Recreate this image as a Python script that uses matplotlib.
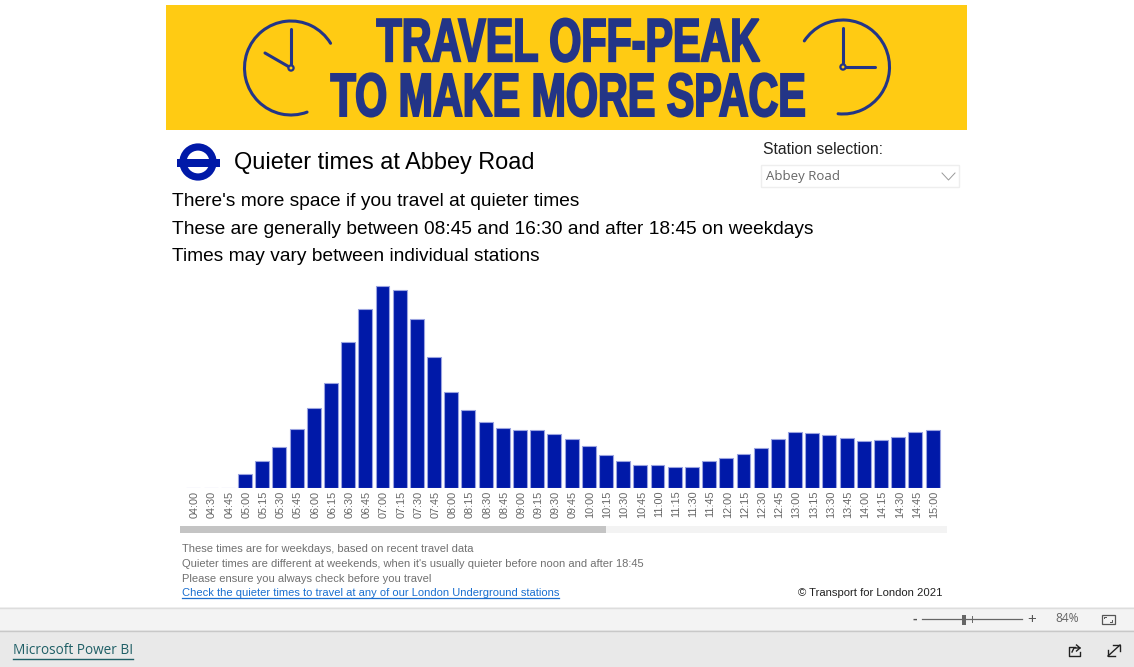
import matplotlib
matplotlib.use("Agg")
import matplotlib.pyplot as plt
from matplotlib.patches import Rectangle, Arc, Circle
from matplotlib.patheffects import AbstractPathEffect
from matplotlib.transforms import Affine2D, ScaledTranslation

W, H = 1134, 667

# ---- data ----
time_slots = ["04:00", "04:30", "04:45", "05:00", "05:15", "05:30", "05:45", "06:00", "06:15", "06:30",
              "06:45", "07:00", "07:15", "07:30", "07:45", "08:00", "08:15", "08:30", "08:45", "09:00",
              "09:15", "09:30", "09:45", "10:00", "10:15", "10:30", "10:45", "11:00", "11:15", "11:30",
              "11:45", "12:00", "12:15", "12:30", "12:45", "13:00", "13:15", "13:30", "13:45", "14:00",
              "14:15", "14:30", "14:45", "15:00"]
busyness = [0, 0, 0, 14, 27, 41, 59, 80, 105, 146,
            179, 202, 198, 169, 131, 96, 78, 66, 60, 58,
            58, 54, 49, 42, 33, 27, 23, 23, 21, 21,
            27, 30, 34, 40, 49, 56, 55, 53, 50, 47,
            48, 51, 56, 58]
banner_text = "TRAVEL OFF-PEAK\nTO MAKE MORE SPACE"
title = "Quieter times at Abbey Road"
intro_lines = ["There's more space if you travel at quieter times",
               "These are generally between 08:45 and 16:30 and after 18:45 on weekdays",
               "Times may vary between individual stations"]
note_lines = ["These times are for weekdays, based on recent travel data",
              "Quieter times are different at weekends, when it's usually quieter before noon and after 18:45",
              "Please ensure you always check before you travel"]
link_text = "Check the quieter times to travel at any of our London Underground stations"
copyright_text = "© Transport for London 2021"

plt.rcParams["font.family"] = ["Liberation Sans", "DejaVu Sans"]
BAR = "#0019A8"
NAVY = "#233587"
YEL = "#FFCB13"

fig = plt.figure(figsize=(W / 100, H / 100), dpi=100, facecolor="white")
bg = fig.add_axes([0, 0, 1, 1])
bg.set_xlim(0, W)
bg.set_ylim(H, 0)
bg.axis("off")


class Squeeze(AbstractPathEffect):
    """Narrow a real text object horizontally and thicken its strokes."""

    def __init__(self, sx, cx, stroke):
        super().__init__()
        self.sx, self.cx, self.stroke = sx, cx, stroke

    def draw_path(self, renderer, gc, tpath, affine, rgbFace):
        aff = affine + Affine2D().translate(-self.cx, 0).scale(self.sx, 1).translate(self.cx, 0)
        g = renderer.new_gc()
        g.copy_properties(gc)
        g.set_linewidth(self.stroke)
        g.set_foreground(rgbFace)
        g.set_joinstyle("miter")
        renderer.draw_path(g, tpath, aff, rgbFace)
        g.restore()


def px(x, y, s, size, color="black", **kw):
    kw.setdefault("va", "center")
    return bg.text(x, y, s, fontsize=size * 0.72, color=color, **kw)


# ---- banner ----
bg.add_patch(Rectangle((166, 5), 801, 125, fc=YEL, ec="none"))
t = bg.text(568.5, 116, banner_text, fontsize=44, fontweight="bold", color=NAVY, ha="center", va="baseline",
            multialignment="center", linespacing=0.95,
            family=["Liberation Sans Narrow", "Liberation Sans"])
t.set_path_effects([Squeeze(0.675, 568.5, 1.4)])

for cx, cy, a1, a2, hands in ((291, 68, 32, 290, ((291, 29), (265, 53))),
                              (843, 67, 264, 506, ((843, 28), (875, 67)))):
    bg.add_patch(Arc((cx, cy), 93, 94, theta1=-a2, theta2=-a1, ec=NAVY, lw=2.2, capstyle="round"))
    for hx, hy in hands:
        bg.plot([cx, hx], [cy, hy], color=NAVY, lw=2.2, solid_capstyle="round")
    bg.add_patch(Circle((cx, cy), 2.6, fc=YEL, ec=NAVY, lw=1.6, zorder=3))

# ---- roundel + heading ----
bg.add_patch(Circle((198, 162), 15, fc="none", ec=BAR, lw=5.2))
bg.add_patch(Rectangle((177, 158.5), 43, 8.5, fc=BAR, ec="none"))
px(234.5, 163, title, 23.55)
for s, y in zip(intro_lines, (201.5, 229.5, 256.5)):
    px(172.5, y, s, 19.17)

# ---- slicer ----
px(763, 149, "Station selection:", 15.75, color="#222222")
bg.add_patch(Rectangle((760.5, 164.5), 198, 22, fc="white", ec="#eeeeee", lw=1))
px(765.5, 176.5, "Abbey Road", 13.3, color="#666666",
   family=["Open Sans", "Liberation Sans"])
bg.plot([942, 948.5, 955], [173, 180, 173], color="#999999", lw=0.7)

# ---- chart ----
ax = fig.add_axes([180 / W, 1 - 488 / H, (947 - 180) / W, (488 - 280) / H])
ax.patch.set_alpha(0)
positions = list(range(len(time_slots)))
ax.bar(positions, busyness, width=0.81, color=BAR, edgecolor="#9aa3e0", linewidth=0.8)
ax.set_xlim(-0.78, 43.84)
ax.set_ylim(0, 208)
ax.set_xticks(positions)
ax.set_xticklabels(time_slots, rotation=90, fontsize=7.8, color="#666666")
ax.tick_params(axis="x", length=0, pad=1.8)
shift = ScaledTranslation(1.5 / 100, 0, fig.dpi_scale_trans)
for lab in ax.get_xticklabels():
    lab.set_transform(lab.get_transform() + shift)
ax.set_yticks([])
for sp in ax.spines.values():
    sp.set_visible(False)

# ---- scrollbar ----
bg.add_patch(Rectangle((180, 526), 767, 7, fc="#f3f3f3", ec="none"))
bg.add_patch(Rectangle((180, 526), 426, 7, fc="#c4c4c4", ec="none"))

# ---- notes ----
for s, y in zip(note_lines, (549.5, 564, 578.5)):
    px(181.5, y, s, 11.14, color="#707070")
px(181.5, 592.5, link_text, 11.14, color="#1a6fd0")
bg.plot([181.5, 559], [598, 598], color="#1a6fd0", lw=0.9)
px(943, 593, copyright_text, 11.2, color="#222222", ha="right")

# ---- Power BI chrome ----
bg.add_patch(Rectangle((0, 607), W, 23, fc="#f3f3f3", ec="none"))
bg.plot([0, W], [607.5, 607.5], color="#dddddd", lw=1)
bg.add_patch(Rectangle((0, 630), W, 37, fc="#e9e9e9", ec="none"))
bg.plot([0, W], [630.5, 630.5], color="#c8c8c8", lw=1)
bg.plot([922, 1022], [619, 619], color="#666666", lw=0.9)
bg.plot([972, 972], [616, 622], color="#666666", lw=0.7)
bg.add_patch(Rectangle((962, 614.5), 4, 10, fc="#666666", ec="none"))
px(915, 618.5, "-", 14, color="#555555", ha="center", fontweight="bold")
px(1032, 618.5, "+", 15, color="#555555", ha="center")
px(1067, 619, "84%", 12, color="#666666", ha="center", family=["Open Sans", "Liberation Sans"])
bg.add_patch(Rectangle((1101.5, 614.5), 13, 9.5, fc="none", ec="#555555", lw=0.9))
bg.plot([1104, 1104, 1106], [618, 616.5, 616.5], color="#555555", lw=0.7)
bg.plot([1110, 1112, 1112], [622, 622, 620], color="#555555", lw=0.7)
px(13, 651, "Microsoft Power BI", 13.6, color="#1f5f66", family=["Open Sans", "Liberation Sans"], fontweight="medium")
bg.plot([13, 133], [658.5, 658.5], color="#1f5f66", lw=1)

# share icon
bg.plot([1075, 1069, 1069, 1080, 1080], [647, 647, 655.5, 655.5, 652], color="#222222", lw=1)
bg.plot([1072, 1074, 1080, 1076.5], [652, 648, 648, 645], color="#222222", lw=1)
bg.plot([1080, 1076.5], [648, 651], color="#222222", lw=1)
# expand icon
bg.plot([1108, 1120], [656, 645], color="#222222", lw=1)
bg.plot([1113, 1120, 1120], [645, 645, 651], color="#222222", lw=1)
bg.plot([1108, 1108, 1115], [650, 656, 656], color="#222222", lw=1)

fig.savefig("out.png", dpi=100)
